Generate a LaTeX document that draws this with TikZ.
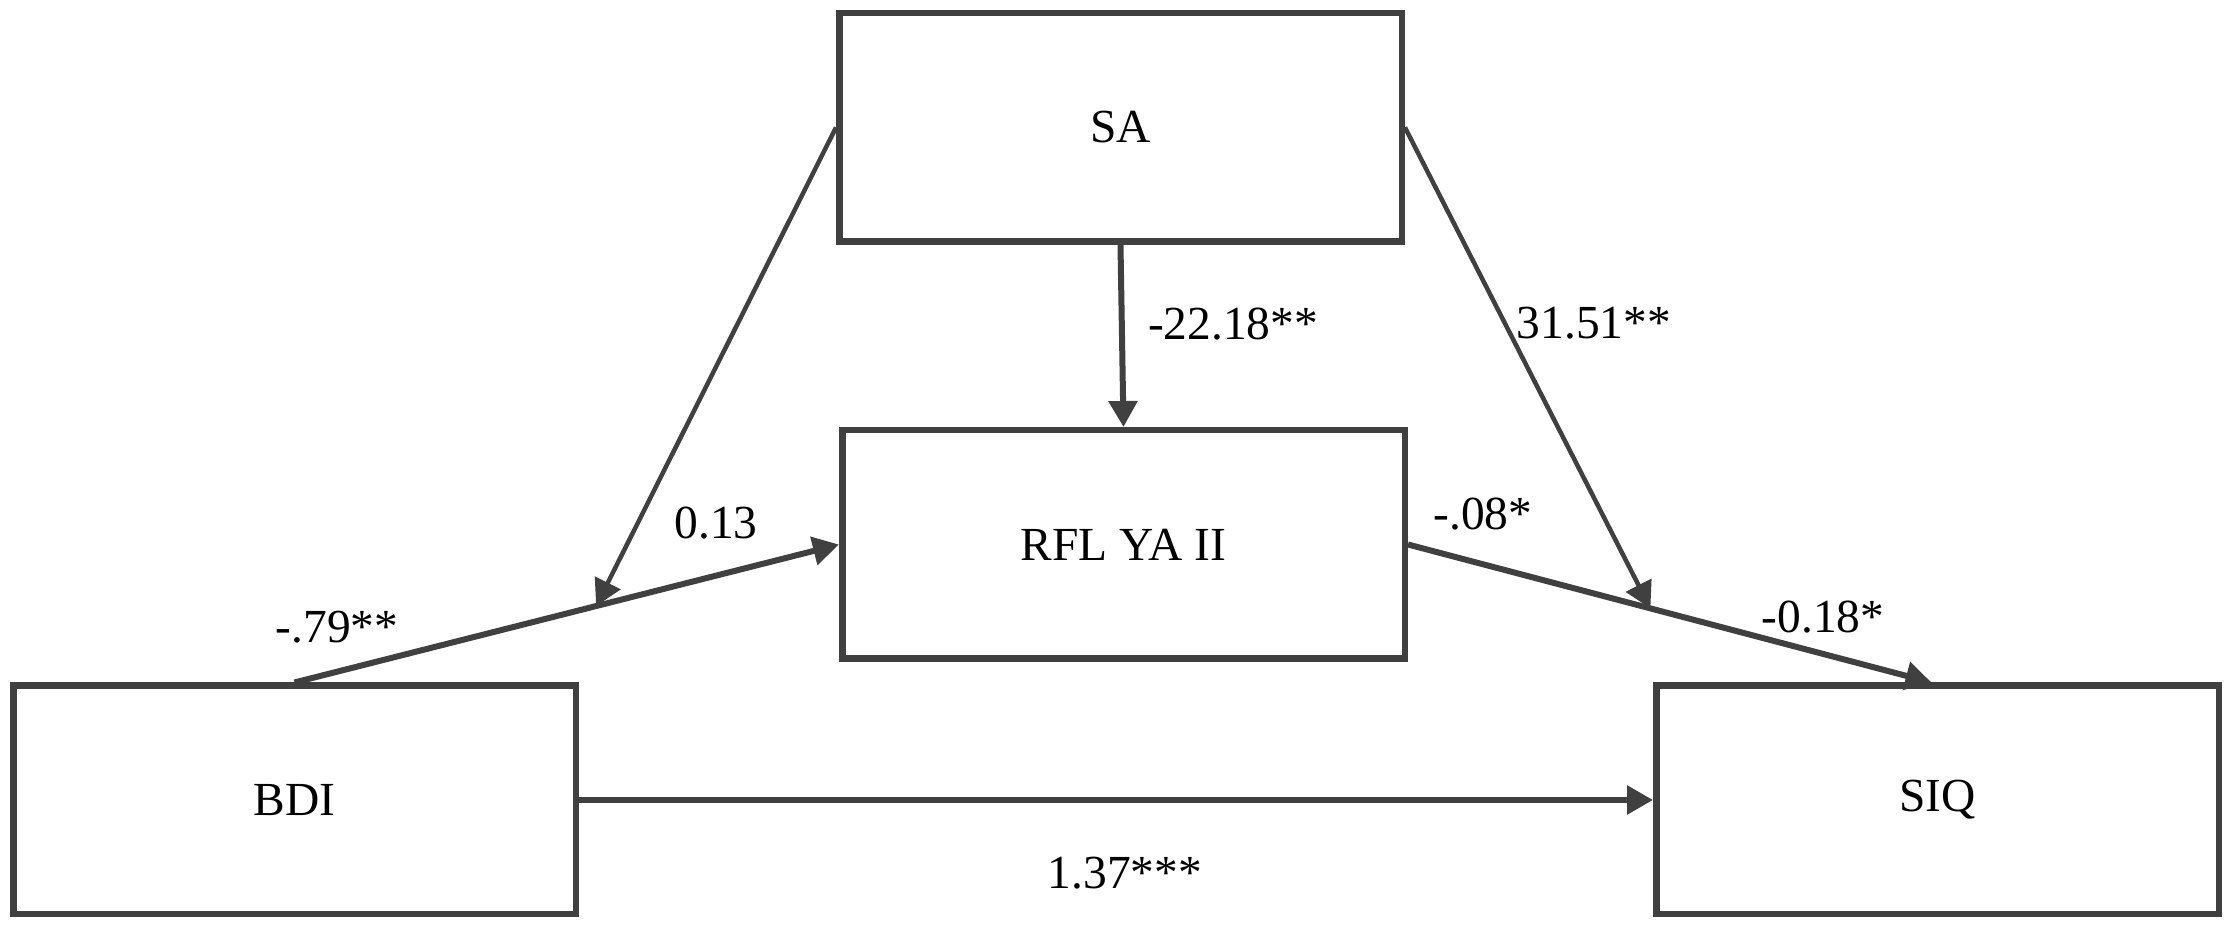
\documentclass[tikz,border=0pt]{standalone}
\usepackage{fontspec}
\setmainfont{Liberation Serif}
\usetikzlibrary{arrows.meta,calc}
\definecolor{linegray}{RGB}{64,64,64}
\tikzset{
  varbox/.style={draw=linegray, line width=0.065cm, minimum width=5.625cm, minimum height=2.285cm, inner sep=0pt, fill=white, font=\fontsize{13.5}{16}\selectfont},
  lbl/.style={font=\fontsize{13.5}{16}\selectfont, inner sep=0pt},
  thickarrow/.style={draw=linegray, line width=0.06cm, -{Triangle[length=0.26cm,width=0.28cm]}},
  thinarrow/.style={draw=linegray, line width=0.045cm, -{Triangle[length=0.26cm,width=0.28cm]}}
}
\begin{document}
\begin{tikzpicture}
\useasboundingbox (0,0) rectangle (22.3,9.32);
\fill[white] (0,0) rectangle (22.3,9.32);
% boxes
\node[varbox] (SA)  at (11.205,8.045) {SA};
\node[varbox] (RFL) at (11.235,3.875) {RFL YA II};
\node[varbox] (BDI) at (2.945,1.32) {BDI};
\node[varbox] (SIQ) at (19.375,1.32) {SIQ};
% points where moderator arrows meet the paths
\coordinate (m1) at ($(BDI.north)!0.554!(RFL.west)$);
\coordinate (s2) at ([xshift=-0.06cm]SIQ.north);
\coordinate (m2) at ($(RFL.east)!0.463!(s2)$);
% connectors
\draw[thickarrow] (BDI.north) -- (RFL.west);
\draw[thickarrow] (RFL.east) -- (s2);
\draw[thickarrow] (BDI.east) -- (SIQ.west);
\draw[thickarrow] (SA.south) -- (RFL.north);
\draw[thinarrow] (SA.west) -- (m1);
\draw[thinarrow] (SA.east) -- (m2);
% labels
\node[lbl] (l1) at (12.33,6.08) {-22.18**};
\node[lbl] (l2) at (15.94,6.09) {31.51**};
\node[lbl] (l3) at (7.16,4.09) {0.13};
\node[lbl] (l4) at (3.37,3.05) {-.79**};
\node[lbl] (l5) at (14.83,4.18) {-.08*};
\node[lbl] (l6) at (18.23,3.15) {-0.18*};
\node[lbl] (l7) at (11.25,0.59) {1.37***};
\end{tikzpicture}
\end{document}
